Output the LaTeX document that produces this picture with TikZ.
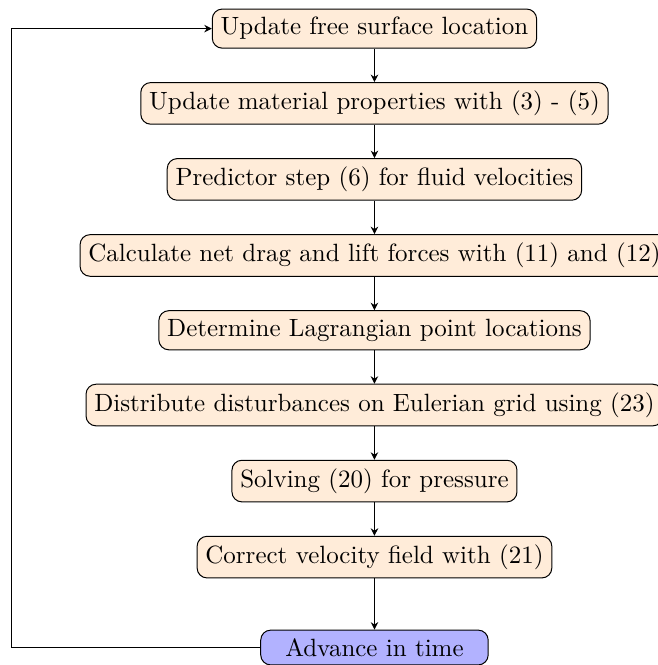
\documentclass[tikz,border=0pt]{standalone}
\usepackage{xcolor}
\usepackage{tikz}
\usetikzlibrary{arrows.meta, positioning}

\begin{document}
\begin{tikzpicture}[
  node distance=0.47cm,
  stage/.style={draw, rounded corners, fill=orange!15},
  timestep/.style={draw, rounded corners, minimum width=3.2cm, fill=blue!30},
  arrow/.style={-{Stealth[length=3pt, width=3pt]}}
]
\node[stage] (surface) {Update free surface location};
\node[stage, below=of surface] (material) {Update material properties with (3) - (5)};
\node[stage, below=of material] (predictor) {Predictor step (6) for fluid velocities};
\node[stage, below=of predictor] (forces) {Calculate net drag and lift forces with (11) and (12)};
\node[stage, below=of forces] (lagrange) {Determine Lagrangian point locations};
\node[stage, below=of lagrange] (distribute) {Distribute disturbances on Eulerian grid using (23)};
\node[stage, below=of distribute] (pressure) {Solving (20) for pressure};
\node[stage, below=of pressure] (correct) {Correct velocity field with (21)};
\node[timestep, below=0.72cm of correct] (advance) {Advance in time};
\coordinate[left=3.5cm of advance.west] (loop);

\draw[arrow] (surface) -- (material);
\draw[arrow] (material) -- (predictor);
\draw[arrow] (predictor) -- (forces);
\draw[arrow] (forces) -- (lagrange);
\draw[arrow] (lagrange) -- (distribute);
\draw[arrow] (distribute) -- (pressure);
\draw[arrow] (pressure) -- (correct);
\draw[arrow] (correct) -- (advance);
\draw[arrow] (advance.west) -- (loop) |- (surface.west);

\pgfresetboundingbox
\useasboundingbox ([shift={(-149.9pt,11.45pt)}]surface.center) rectangle ([shift={(113.1pt,-7pt)}]advance.center);
\end{tikzpicture}
\end{document}
